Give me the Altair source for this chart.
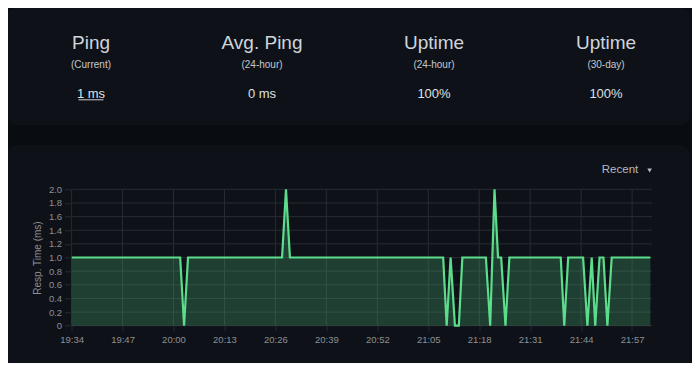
import altair as alt
import pandas as pd

# ---- data ----
DAY = "2023-06-01T"
times = ["19:34:00", "20:01:42", "20:02:42", "20:03:42", "20:27:42", "20:28:42",
         "20:29:42", "21:08:48", "21:09:42", "21:10:42", "21:11:48", "21:12:48",
         "21:13:42", "21:19:42", "21:20:48", "21:21:54", "21:22:48", "21:23:36",
         "21:24:42", "21:25:42", "21:38:48", "21:39:42", "21:40:42", "21:44:30",
         "21:45:36", "21:46:42", "21:47:36", "21:48:42", "21:49:42", "21:50:42",
         "21:51:48", "22:01:40"]
values = [1, 1, 0, 1, 1, 2,
          1, 1, 0, 1, 0, 0,
          1, 1, 0, 2, 1, 1,
          0, 1, 1, 0, 1, 1,
          0, 1, 0, 1, 1, 0,
          1, 1]
x_tick_labels = ["19:34", "19:47", "20:00", "20:13", "20:26", "20:39",
                 "20:52", "21:05", "21:18", "21:31", "21:44", "21:57"]
y_ticks = [0, 0.2, 0.4, 0.6, 0.8, 1.0, 1.2, 1.4, 1.6, 1.8, 2.0]
stat_titles = ["Ping", "Avg. Ping", "Uptime", "Uptime"]
stat_periods = ["(Current)", "(24-hour)", "(24-hour)", "(30-day)"]
stat_values = ["1 ms", "0 ms", "100%", "100%"]
domain_end = "22:02:05"

# ---- styles ----
FONT = "Liberation Sans"
PAGE_BG = "#090c10"
PANEL_BG = "#0e1218"
GREEN = "#5cdd8b"
GRID = "#272b32"
TICK_TXT = "#8c9096"
W, H = 580.4, 136.4
PAD_L, PAD_T = 63.6, 181.3
CANVAS_W, CANVAS_H = 684, 355
col_x = [19.4, 190.4, 362.4, 534.4]

df = pd.DataFrame({"t": [DAY + t for t in times], "v": values})
xgrid = pd.DataFrame({"t": [DAY + s + ":00" for s in x_tick_labels]})
ygrid = pd.DataFrame({"v": y_ticks})


def dt(s):
    parts = s.split(":")
    sec = int(parts[2]) if len(parts) == 3 else 0
    return alt.DateTime(year=2023, month=6, date=1, hours=int(parts[0]),
                        minutes=int(parts[1]), seconds=sec)


x_scale = alt.Scale(domain=[dt("19:34:00"), dt(domain_end)], nice=False)
y_scale = alt.Scale(domain=[0, 2], nice=False)

x_axis = alt.Axis(
    values=[dt(s) for s in x_tick_labels], format="%H:%M", title=None,
    domain=False, grid=False, tickColor=GRID, tickSize=5, zindex=1,
    labelPadding=4, labelColor=TICK_TXT, labelFontSize=9.5, labelFont=FONT,
    labelFlush=False, labelOverlap=False,
)
y_axis = alt.Axis(
    values=y_ticks, labelExpr="datum.value == 0 ? '0' : format(datum.value, '.1f')",
    title="Resp. Time (ms)", titleX=-34.6, titleY=H / 2, titleAngle=270,
    titleAlign="center", titleBaseline="middle", titleColor=TICK_TXT,
    titleFont=FONT, titleFontSize=10, titleFontWeight="normal",
    domain=False, grid=False, tickColor=GRID, tickSize=7, zindex=1,
    labelPadding=3, labelColor=TICK_TXT, labelFontSize=9.5, labelFont=FONT,
    labelFlush=False, labelOverlap=False,
)
x_enc = alt.X("t:T", scale=x_scale, axis=x_axis)
y_enc = alt.Y("v:Q", scale=y_scale, axis=y_axis)

one = pd.DataFrame({"k": [0]})


def panel(x1, x2, y1, y2):
    return alt.Chart(one).mark_rect(cornerRadius=10, color=PANEL_BG).encode(
        x=alt.value(x1), x2=alt.value(x2), y=alt.value(y1), y2=alt.value(y2))


def label(txt, x, y, size, color, baseline="middle", align="center"):
    return alt.Chart(pd.DataFrame({"label": [txt]})).mark_text(
        font=FONT, fontSize=size, color=color, align=align, baseline=baseline
    ).encode(x=alt.value(x), y=alt.value(y), text="label:N")


layers = [
    panel(-64.6, 618.4, -181.3, -64.3),
    panel(-64.6, 618.4, -44.3, 185),
]

# grid lines (drawn behind the data)
layers.append(alt.Chart(xgrid).mark_rule(color=GRID, strokeWidth=1).encode(
    x=x_enc, y=alt.value(0), y2=alt.value(H)))
layers.append(alt.Chart(ygrid).mark_rule(color=GRID, strokeWidth=1).encode(
    y=y_enc, x=alt.value(0), x2=alt.value(W)))

area = alt.Chart(df).mark_area(color=GREEN, opacity=0.22, interpolate="linear").encode(
    x=x_enc, y=y_enc)
line = alt.Chart(df).mark_line(color=GREEN, strokeWidth=2.2, interpolate="linear",
                               strokeJoin="miter").encode(x=x_enc, y=y_enc)
layers += [area, line]

for i in range(4):
    layers.append(label(stat_titles[i], col_x[i], -146.3, 19, "#cfd5dc"))
    layers.append(label(stat_periods[i], col_x[i], -124.3, 10, "#c3c8ce"))
    layers.append(label(stat_values[i], col_x[i], -95.3, 13, "#dde1e6"))

# underline of the current ping value
layers.append(alt.Chart(one).mark_rule(color="#c9ced4", strokeWidth=1).encode(
    x=alt.value(col_x[0] - 12.5), x2=alt.value(col_x[0] + 12.5), y=alt.value(-89.5)))

layers.append(label("Recent", 548.4, -19.3, 11.5, "#b4b8bd"))
layers.append(alt.Chart(one).mark_point(shape="triangle-down", filled=True, size=22,
                                         color="#b4b8bd", opacity=1).encode(
    x=alt.value(578), y=alt.value(-18.8)))

chart = alt.layer(*layers).properties(
    width=W, height=H,
    autosize=alt.AutoSizeParams(type="none"),
    padding={"left": PAD_L, "top": PAD_T, "right": CANVAS_W - PAD_L - W,
             "bottom": CANVAS_H - PAD_T - H},
    background=PAGE_BG,
).configure_view(strokeWidth=0)

chart.save("out.html", embed_options={"renderer": "svg", "actions": False})
